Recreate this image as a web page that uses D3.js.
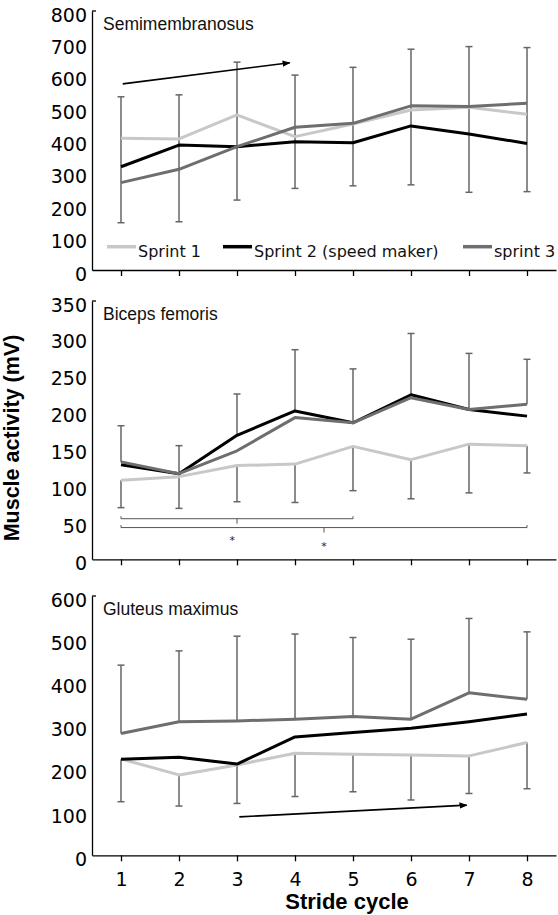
<!DOCTYPE html>
<html lang="en">
<head>
<meta charset="UTF-8">
<title>Muscle activity</title>
<script src="https://cdn.jsdelivr.net/npm/d3@7"></script>
<style>
  body { margin: 0; background: #fff; }
  svg { display: block; }
</style>
</head>
<body>
<script>
// stride cycles on the x axis
const strides = [1, 2, 3, 4, 5, 6, 7, 8];
const seriesNames = ['Sprint 1', 'Sprint 2 (speed maker)', 'sprint 3'];
const seriesColors = ['#c8c8c8', '#000000', '#6e6e6e'];

// Semimembranosus
const semiSprint1 = [407, 405, 479, 412, 451, 494, 503, 481];
const semiSprint2 = [319, 386, 381, 396, 393, 445, 420, 391];
const semiSprint3 = [270, 311, 381, 441, 453, 507, 505, 515];
const semiErrHigh = [535, 541, 642, 602, 626, 682, 690, 687];
const semiErrLow = [146, 149, 216, 252, 260, 263, 240, 242];
const semiTicks = [0, 100, 200, 300, 400, 500, 600, 700, 800];
const semiArrow = [[1.03, 575], [3.91, 640]];

// Biceps femoris
const bicepsSprint1 = [107, 112, 127, 129, 153, 135, 156, 154];
const bicepsSprint2 = [128, 116, 168, 201, 185, 223, 203, 194];
const bicepsSprint3 = [132, 116, 147, 192, 185, 219, 203, 210];
const bicepsErrHigh = [181, 154, 224, 284, 258, 306, 279, 271];
const bicepsErrLow = [70, 69, 78, 77, 93, 82, 90, 117];
const bicepsTicks = [0, 50, 100, 150, 200, 250, 300, 350];
// significance brackets: [from, to, level, centre]
const bicepsBrackets = [[1, 5, 55, 3], [1, 8, 43, 4.5]];
const bicepsStars = [[2.92, 27], [4.5, 20]];

// Gluteus maximus
const glutSprint1 = [223, 186, 209, 236, 234, 232, 230, 261];
const glutSprint2 = [222, 227, 211, 274, 284, 294, 309, 327];
const glutSprint3 = [282, 309, 311, 315, 321, 315, 376, 361];
const glutErrHigh = [440, 473, 507, 512, 504, 500, 548, 517];
const glutErrLow = [124, 114, 120, 136, 147, 128, 143, 154];
const glutTicks = [0, 100, 200, 300, 400, 500, 600];
const glutArrow = [[3.04, 89], [6.96, 116]];

const width = 558, height = 915;

const panels = [
  { title: 'Semimembranosus', series: [semiSprint1, semiSprint2, semiSprint3],
    high: semiErrHigh, low: semiErrLow, ticks: semiTicks, split: false,
    bottom: 270, top: 11, arrow: semiArrow, legend: true },
  { title: 'Biceps femoris', series: [bicepsSprint1, bicepsSprint2, bicepsSprint3],
    high: bicepsErrHigh, low: bicepsErrLow, ticks: bicepsTicks, split: true,
    bottom: 559.3, top: 301, brackets: bicepsBrackets, stars: bicepsStars },
  { title: 'Gluteus maximus', series: [glutSprint1, glutSprint2, glutSprint3],
    high: glutErrHigh, low: glutErrLow, ticks: glutTicks, split: true,
    bottom: 855.3, top: 596, arrow: glutArrow, xLabels: true }
];

const svg = d3.select('body').append('svg')
  .attr('width', width)
  .attr('height', height);

const defs = svg.append('defs');
defs.append('marker')
  .attr('id', 'head')
  .attr('viewBox', '0 0 10 10')
  .attr('refX', 9).attr('refY', 5)
  .attr('markerWidth', 5).attr('markerHeight', 5)
  .attr('markerUnits', 'strokeWidth')
  .attr('orient', 'auto')
  .append('path')
  .attr('d', 'M0,1 L10,5 L0,9 Z')
  .attr('fill', '#000');

const x = d3.scaleLinear().domain([0.5, 8.5]).range([92, 556]);

panels.forEach(p => {
  const y = d3.scaleLinear()
    .domain([0, d3.max(p.ticks)])
    .range([p.bottom, p.top]);
  const g = svg.append('g');

  // error bars
  const bars = g.append('g').attr('stroke', '#666').attr('stroke-width', 1.5);
  strides.forEach((s, i) => {
    const vals = p.series.map(v => v[i]);
    const segs = p.split
      ? [[d3.max(vals), p.high[i]], [d3.min(vals), p.low[i]]]
      : [[p.low[i], p.high[i]]];
    segs.forEach(([a, b]) => {
      bars.append('line')
        .attr('x1', x(s)).attr('x2', x(s))
        .attr('y1', y(a)).attr('y2', y(b));
    });
    [p.high[i], p.low[i]].forEach(v => {
      bars.append('line')
        .attr('x1', x(s) - 3.5).attr('x2', x(s) + 3.5)
        .attr('y1', y(v)).attr('y2', y(v));
    });
  });

  // series lines
  const line = d3.line()
    .x((d, i) => x(strides[i]))
    .y(d => y(d));
  p.series.forEach((vals, k) => {
    g.append('path')
      .datum(vals)
      .attr('fill', 'none')
      .attr('stroke', seriesColors[k])
      .attr('stroke-width', 3)
      .attr('stroke-linejoin', 'round')
      .attr('d', line);
  });

  // axes
  const yAxis = g.append('g')
    .attr('transform', `translate(${x(0.5)},0)`)
    .call(d3.axisLeft(y).tickValues(p.ticks).tickSize(0).tickSizeOuter(0).tickPadding(5));
  yAxis.selectAll('text')
    .attr('y', 4)
    .attr('font-family', 'DejaVu Sans')
    .attr('font-size', 19)
    .attr('fill', '#000');
  yAxis.select('.domain').attr('stroke', '#000').attr('stroke-width', 1.3);
  g.append('line')
    .attr('x1', x(0.5)).attr('x2', x(0.5) + 4)
    .attr('y1', y.range()[1]).attr('y2', y.range()[1])
    .attr('stroke', '#000').attr('stroke-width', 1.3);

  const xAxis = g.append('g')
    .attr('transform', `translate(0,${p.bottom})`)
    .call(d3.axisBottom(x).tickValues(strides).tickSize(6).tickSizeOuter(0).tickPadding(11)
      .tickFormat(p.xLabels ? d3.format('d') : ''));
  xAxis.select('.domain').attr('stroke', '#000').attr('stroke-width', 1.3);
  xAxis.selectAll('.tick line').attr('stroke', '#000').attr('stroke-width', 1.3);
  xAxis.selectAll('text')
    .attr('font-family', 'DejaVu Sans')
    .attr('font-size', 19)
    .attr('fill', '#000');

  // panel title
  g.append('text')
    .attr('x', 103)
    .attr('y', p.top + 18.5)
    .attr('font-family', 'Liberation Sans, Arial, sans-serif')
    .attr('font-size', 17.5)
    .attr('fill', '#111')
    .text(p.title);

  // trend arrow
  if (p.arrow) {
    g.append('line')
      .attr('x1', x(p.arrow[0][0])).attr('y1', y(p.arrow[0][1]))
      .attr('x2', x(p.arrow[1][0])).attr('y2', y(p.arrow[1][1]))
      .attr('stroke', '#000')
      .attr('stroke-width', 1.6)
      .attr('marker-end', 'url(#head)');
  }

  // significance brackets
  if (p.brackets) {
    p.brackets.forEach(([a, b, lvl, mid]) => {
      const yy = y(lvl);
      g.append('path')
        .attr('d', `M${x(a)},${yy - 2.5}V${yy}H${x(b)}V${yy - 2.5}M${x(mid)},${yy}V${yy + 5}`)
        .attr('fill', 'none')
        .attr('stroke', '#555')
        .attr('stroke-width', 1);
    });
    p.stars.forEach(([s, v]) => {
      g.append('text')
        .attr('x', x(s)).attr('y', y(v) + 5)
        .attr('text-anchor', 'middle')
        .attr('font-family', 'DejaVu Sans')
        .attr('font-size', 11)
        .attr('fill', '#222')
        .text('*');
    });
  }

  // legend
  if (p.legend) {
    const lx = [107, 223, 463];
    const ly = 246.7;
    seriesNames.forEach((name, k) => {
      g.append('line')
        .attr('x1', lx[k]).attr('x2', lx[k] + 29)
        .attr('y1', ly).attr('y2', ly)
        .attr('stroke', seriesColors[k])
        .attr('stroke-width', 3.5);
      g.append('text')
        .attr('x', lx[k] + 31)
        .attr('y', ly + 10)
        .attr('font-family', 'DejaVu Sans')
        .attr('font-size', 16)
        .attr('fill', '#111')
        .text(name);
    });
  }
});

// axis titles
svg.append('text')
  .attr('transform', 'translate(18.5,438) rotate(-90)')
  .attr('text-anchor', 'middle')
  .attr('font-family', 'Liberation Sans, Arial, sans-serif')
  .attr('font-weight', 'bold')
  .attr('font-size', 21.5)
  .attr('fill', '#000')
  .text('Muscle activity (mV)');

svg.append('text')
  .attr('x', 347)
  .attr('y', 909)
  .attr('text-anchor', 'middle')
  .attr('font-family', 'Liberation Sans, Arial, sans-serif')
  .attr('font-weight', 'bold')
  .attr('font-size', 22)
  .attr('fill', '#000')
  .text('Stride cycle');
</script>
</body>
</html>
